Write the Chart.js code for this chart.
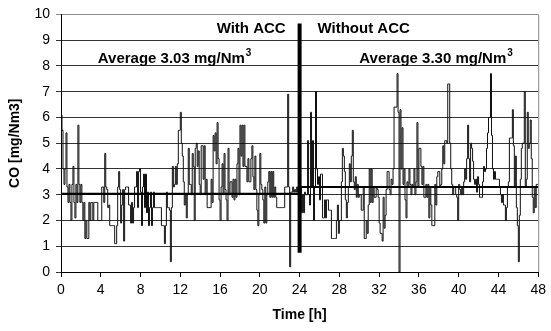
<!DOCTYPE html>
<html><head><meta charset="utf-8">
<script src="https://cdn.jsdelivr.net/npm/chart.js@4/dist/chart.umd.min.js"></script>
<style>html,body{margin:0;padding:0;background:#fff}canvas{display:block}</style>
</head><body>
<canvas id="c" width="551" height="331"></canvas>
<script>
// CO concentration [mg/Nm3], sampled every 0.1 h
const coHours0to12 = [
  6.1,5.5,4.0,3.4,4.0,5.4,3.3,2.7,3.4,2.7,
  2.0,3.4,4.1,2.7,2.1,3.4,2.7,5.7,3.4,2.7,
  3.4,2.7,2.0,2.7,1.3,2.0,1.3,1.3,2.7,2.0,
  2.7,2.7,2.0,2.7,2.7,2.7,2.7,2.0,2.0,2.0,
  2.0,3.3,3.3,2.7,4.6,3.3,3.2,2.5,2.6,1.8,
  1.8,1.8,1.8,1.8,1.1,1.1,1.8,3.3,3.9,3.2,
  1.9,2.6,3.2,1.2,3.2,3.3,3.3,3.3,2.6,2.6,
  1.9,2.7,1.9,2.5,3.3,3.3,3.9,2.5,3.9,4.0,
  3.1,1.8,3.3,3.8,2.5,3.8,2.3,3.1,1.8,2.5,
  3.1,1.8,2.5,3.1,2.5,2.5,2.5,2.5,2.5,2.5,
  2.5,1.8,1.8,1.8,1.1,1.8,3.1,2.5,2.5,2.4,
  0.4,2.5,4.1,3.3,3.4,4.1,3.4,4.2,5.5,5.5
];
const coHours12to24 = [
  6.2,5.0,4.5,3.5,2.6,3.0,2.1,3.0,4.8,3.4,
  3.4,3.0,4.6,4.1,2.0,4.8,5.0,4.1,4.7,3.4,
  3.0,4.9,4.9,3.6,4.9,3.0,3.6,2.5,2.5,2.5,
  2.5,3.6,2.7,5.3,4.7,5.4,4.2,5.8,4.4,2.8,
  2.0,3.3,4.2,3.0,4.6,3.2,2.8,2.0,4.8,3.0,
  3.5,3.5,2.9,3.6,2.8,3.6,2.9,4.2,4.8,3.0,
  5.7,4.5,5.7,4.1,5.7,4.1,4.1,3.5,4.4,3.5,
  3.5,4.4,4.9,3.7,3.2,4.5,3.2,2.4,1.8,3.0,
  4.6,3.4,3.2,2.8,1.9,3.3,1.9,3.0,3.5,3.9,
  2.9,3.9,2.9,3.9,2.9,3.3,2.9,2.5,2.5,2.5,
  2.5,2.5,2.5,2.5,2.5,3.3,3.3,3.3,6.9,3.3,
  0.2,3.1,3.1,3.3,3.1,3.2,3.1,3.3,3.1,3.2
];
const coHours24to36 = [
  3.3,3.3,2.3,3.0,2.3,3.1,3.0,3.0,5.1,3.0,
  2.6,6.2,3.3,5.1,2.0,3.3,7.0,4.0,3.4,3.7,
  2.8,3.8,3.8,2.1,2.1,2.8,2.1,2.8,2.8,2.4,
  2.4,2.4,1.3,1.3,1.3,1.3,1.3,2.0,2.6,1.5,
  2.0,2.0,3.5,4.8,4.5,3.9,2.8,2.1,2.7,3.3,
  4.2,3.5,4.5,5.5,3.5,3.2,3.7,2.9,3.4,2.9,
  3.0,3.0,2.4,2.4,3.3,1.3,1.3,2.0,1.5,2.6,
  4.0,2.7,4.0,2.7,3.3,2.9,2.9,3.3,3.2,2.9,
  1.9,1.5,1.5,1.2,2.9,1.7,2.2,3.2,3.9,3.9,
  3.2,3.0,3.6,3.4,4.0,6.4,6.4,6.4,7.7,6.2,
  0.0,6.3,4.0,5.6,3.4,4.0,2.8,2.1,3.5,3.3,
  4.0,3.4,3.0,3.4,3.3,4.0,3.0,3.5,5.8,3.3
];
const coHours36to48 = [
  4.8,4.8,4.1,3.4,4.1,2.9,2.9,3.4,2.9,3.4,
  2.1,3.3,2.6,1.8,1.8,1.8,3.4,2.6,3.7,3.9,
  3.9,3.3,3.4,4.0,4.9,4.2,5.1,5.1,5.0,7.3,
  7.3,5.0,4.0,3.4,3.0,3.3,3.3,3.0,2.9,2.0,
  3.4,3.2,3.0,3.3,3.0,3.5,4.0,3.6,4.4,5.7,
  4.4,3.5,5.0,4.8,4.3,3.6,3.4,3.6,3.1,3.7,
  3.4,2.9,2.9,2.9,3.5,4.1,3.9,4.0,4.8,5.4,
  6.0,6.0,7.7,5.3,4.0,3.6,3.9,3.6,3.6,3.6,
  3.6,3.3,3.0,2.7,3.0,2.6,2.6,2.0,2.5,3.3,
  3.5,5.2,5.2,5.2,6.3,4.9,3.3,4.5,2.5,1.8,
  0.4,2.2,3.6,4.8,5.0,5.0,7.0,3.3,3.6,6.2,
  4.8,5.0,5.9,4.4,2.9,2.3,3.3,2.5,3.4,3.4,
  3.4
];
const sampleStep = 0.1; // hours
const averageWith = 3.03;
const averageWithout = 3.30;
const switchHour = 24;
const switchMarker = [0.75, 9.65];
const xTicks = [0,4,8,12,16,20,24,28,32,36,40,44,48];
const yTicks = [0,1,2,3,4,5,6,7,8,9,10];
const labelWith = "With ACC";
const labelWithout = "Without ACC";
const labelAvgWith = "Average 3.03 mg/Nm";
const labelAvgWithout = "Average 3.30 mg/Nm";

const coAll = [].concat(coHours0to12, coHours12to24, coHours24to36, coHours36to48);
const coPoints = coAll.map((v, i) => ({x: +(i * sampleStep).toFixed(1), y: v}));

const FONT = "'Liberation Sans', Arial, sans-serif";

const overlay = {
  id: 'overlay',
  afterDraw(chart) {
    const {ctx, chartArea: a, scales: {x, y}} = chart;
    ctx.save();
    // right border
    ctx.strokeStyle = '#8a8a8a';
    ctx.lineWidth = 1;
    ctx.beginPath();
    ctx.moveTo(a.right + 0.5, a.top);
    ctx.lineTo(a.right + 0.5, a.bottom);
    ctx.stroke();
    ctx.fillStyle = '#000';
    ctx.textBaseline = 'alphabetic';
    ctx.font = "bold 15px " + FONT;
    ctx.textAlign = 'right';
    ctx.fillText(labelWith, x.getPixelForValue(22.6), y.getPixelForValue(9.27));
    ctx.textAlign = 'left';
    ctx.fillText(labelWithout, x.getPixelForValue(25.8), y.getPixelForValue(9.27));
    function sup(text, hx, vy) {
      ctx.font = "bold 15px " + FONT;
      ctx.textAlign = 'left';
      const px = x.getPixelForValue(hx), py = y.getPixelForValue(vy);
      ctx.fillText(text, px, py);
      const w = ctx.measureText(text).width;
      ctx.font = "bold 10px " + FONT;
      ctx.fillText("3", px + w + 1, py - 7);
    }
    sup(labelAvgWith, 3.7, 8.1);
    sup(labelAvgWithout, 30.0, 8.1);
    ctx.restore();
  }
};

new Chart(document.getElementById('c'), {
  type: 'line',
  data: {
    datasets: [
      {
        data: coPoints,
        borderColor: '#111',
        borderWidth: 1,
        pointRadius: 0,
        stepped: true,
        fill: false,
        order: 3
      },
      {
        data: [{x: 0, y: averageWith}, {x: switchHour, y: averageWith}],
        borderColor: '#000', borderWidth: 2.2, pointRadius: 0, order: 2
      },
      {
        data: [{x: switchHour, y: averageWithout}, {x: 48, y: averageWithout}],
        borderColor: '#000', borderWidth: 2.2, pointRadius: 0, order: 2
      },
      {
        data: [{x: switchHour, y: switchMarker[0]}, {x: switchHour, y: switchMarker[1]}],
        borderColor: '#000', borderWidth: 4, pointRadius: 0, order: 1
      }
    ]
  },
  options: {
    responsive: false,
    animation: false,
    events: [],
    layout: {padding: {top: 13, right: 9, left: 0, bottom: 0}},
    plugins: {legend: {display: false}, tooltip: {enabled: false}},
    scales: {
      x: {
        type: 'linear', min: 0, max: 48,
        afterBuildTicks: s => { s.ticks = xTicks.map(v => ({value: v})); },
        afterFit: s => { s.height = 59; },
        grid: {drawOnChartArea: false, drawTicks: true, tickLength: 5, color: '#000'},
        border: {color: '#000', width: 1},
        ticks: {color: '#000', font: {family: FONT, size: 14}, padding: 5, maxRotation: 0},
        title: {display: true, text: 'Time [h]', color: '#000', font: {family: FONT, size: 14, weight: 'bold'}, padding: {top: 0, bottom: 7}}
      },
      y: {
        type: 'linear', min: 0, max: 10,
        afterBuildTicks: s => { s.ticks = yTicks.map(v => ({value: v})); },
        afterFit: s => { s.width = 61; },
        grid: {
          color: c => (c.tick && c.tick.value === 10) ? '#8a8a8a' : '#333',
          lineWidth: 1, drawTicks: true, tickLength: 5
        },
        border: {color: '#000', width: 1},
        ticks: {color: '#000', font: {family: FONT, size: 14}, padding: 6},
        title: {display: true, text: 'CO [mg/Nm3]', color: '#000', font: {family: FONT, size: 14, weight: 'bold'}, padding: {top: 7, bottom: 0}}
      }
    }
  },
  plugins: [overlay]
});
</script>
</body></html>
